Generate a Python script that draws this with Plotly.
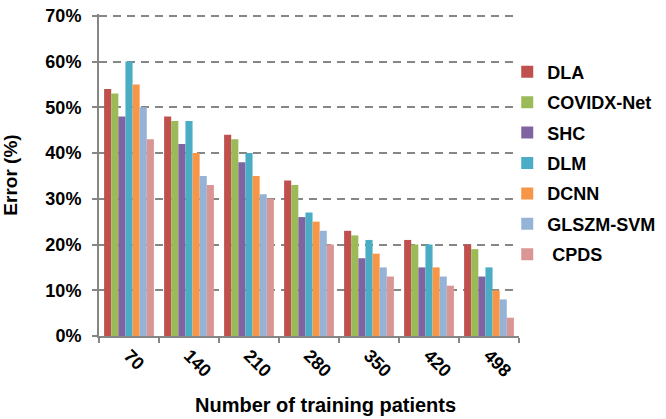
import plotly.graph_objects as go

categories = ["70", "140", "210", "280", "350", "420", "498"]
series_names = ["DLA", "COVIDX-Net", "SHC", "DLM", "DCNN", "GLSZM-SVM", " CPDS"]
dla = [54, 48, 44, 34, 23, 21, 20]
covidx = [53, 47, 43, 33, 22, 20, 19]
shc = [48, 42, 38, 26, 17, 15, 13]
dlm = [60, 47, 40, 27, 21, 20, 15]
dcnn = [55, 40, 35, 25, 18, 15, 10]
glszm = [50, 35, 31, 23, 15, 13, 8]
cpds = [43, 33, 30, 20, 13, 11, 4]
colors = ["#C0504D", "#9BBB59", "#8064A2", "#4BACC6", "#F79646", "#95B3D7", "#D99694"]

values = [dla, covidx, shc, dlm, dcnn, glszm, cpds]

fig = go.Figure()
for i, (name, vals, col) in enumerate(zip(series_names, values, colors)):
    fig.add_trace(go.Bar(
        x=categories, y=vals, name=name,
        marker=dict(color=col, line=dict(width=0)),
        legendgroup=str(i),
    ))

font_family = "Liberation Sans, Arial, sans-serif"
axis_col = "#868686"

fig.update_layout(
    width=666, height=419,
    margin=dict(l=98, r=144, t=6, b=83),
    paper_bgcolor="white", plot_bgcolor="white",
    barmode="group", bargap=0.17, bargroupgap=0,
    font=dict(family=font_family, color="black"),
    showlegend=True,
    legend=dict(
        x=0.972, y=0.877, xanchor="left", yanchor="top",
        font=dict(size=18, family=font_family, color="black", weight="bold"),
        tracegroupgap=4, traceorder="grouped",
        bgcolor="rgba(0,0,0,0)",
    ),
    xaxis=dict(
        type="category", tickson="boundaries", ticks="outside", ticklen=5,
        tickcolor=axis_col, tickwidth=2,
        showline=True, linecolor=axis_col, linewidth=2,
        tickangle=45,
        tickfont=dict(size=18, weight="bold", color="black"),
        showgrid=False,
    ),
    yaxis=dict(
        range=[0, 70.4], tick0=0, dtick=10, ticksuffix="%",
        ticks="outside", ticklen=5, tickcolor=axis_col, tickwidth=2,
        showline=True, linecolor=axis_col, linewidth=2,
        showgrid=True, gridcolor=axis_col, gridwidth=2, griddash="8px,6px",
        zeroline=False, ticklabelstandoff=7, ticklabeloverflow="allow",
        tickfont=dict(size=18, weight="bold", color="black"),
        title=dict(text="Error (%)", font=dict(size=19, weight="bold", color="black"), standoff=26),
    ),
    annotations=[dict(
        text="Number of training patients", xref="paper", yref="paper",
        x=(327 - 98) / 424, y=(336 - 407) / 330, xanchor="center", yanchor="middle",
        showarrow=False, font=dict(size=20, weight="bold", color="black", family=font_family),
    )],
)

fig.write_html("out.html", config={"displayModeBar": False},
               post_script="document.body.style.margin='0';")
